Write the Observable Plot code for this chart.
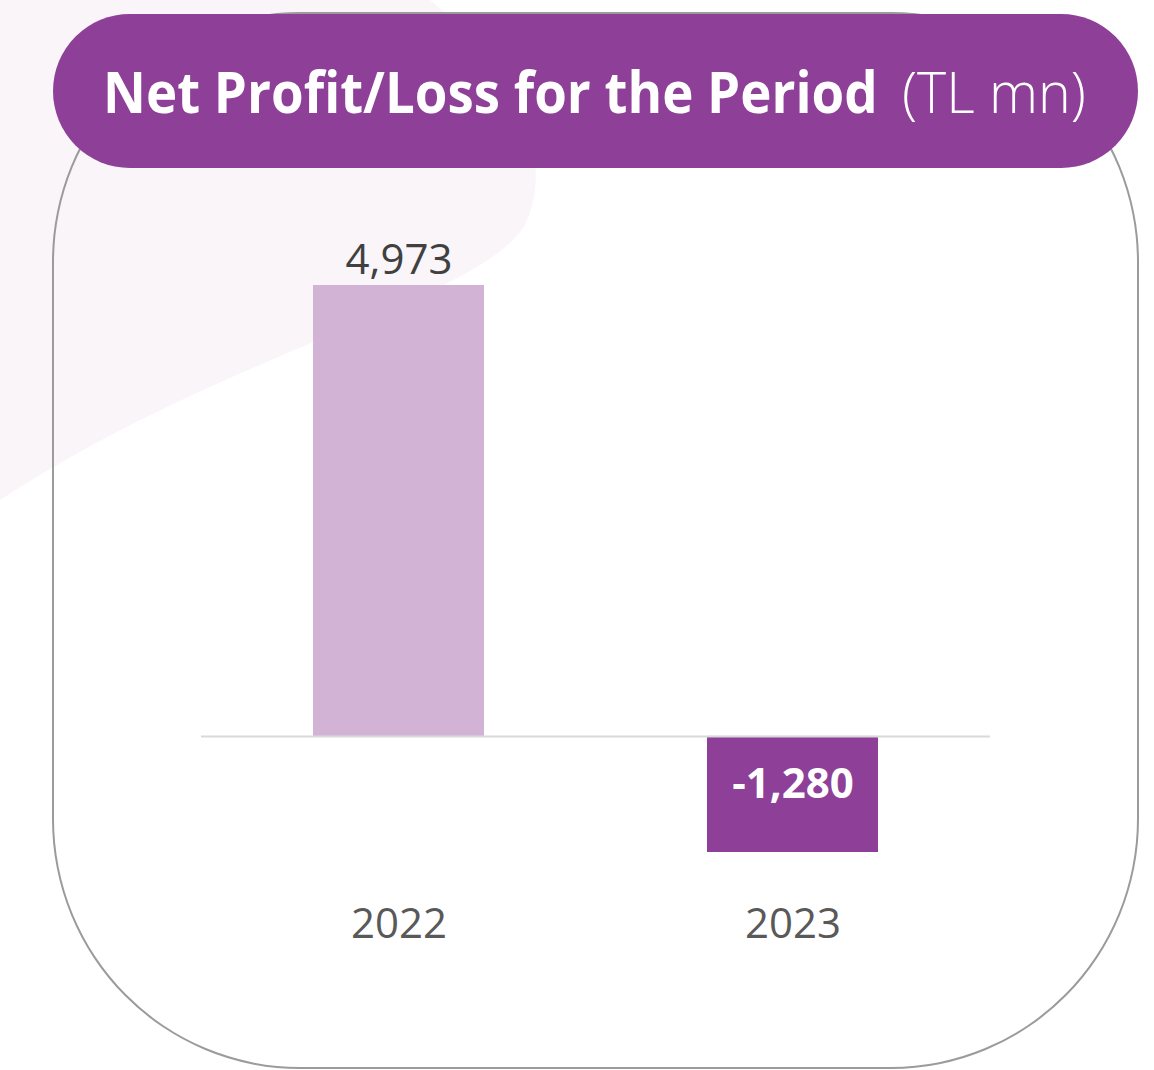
<!DOCTYPE html>
<html>
<head>
<meta charset="utf-8">
<script src="https://cdn.jsdelivr.net/npm/d3@7"></script>
<script src="https://cdn.jsdelivr.net/npm/@observablehq/plot@0.6"></script>
<style>
  html, body { margin: 0; padding: 0; background: #ffffff; }
  #page { position: relative; width: 1154px; height: 1070px; overflow: hidden; background: #ffffff; font-family: "Open Sans", sans-serif; }
  #bg { position: absolute; left: 0; top: 0; }
  #frame { position: absolute; left: 52px; top: 12px; width: 1087px; height: 1057px; box-sizing: border-box;
           border: 2px solid #9b9b9b; border-radius: 248px / 250px; }
  #chart { position: absolute; left: 0; top: 180px; }
  #pill { position: absolute; left: 53px; top: 14px; width: 1085px; height: 154px; border-radius: 77px; background: #8E3F97; }
  #pill svg { display: block; }
</style>
</head>
<body>
<div id="page">
  <svg id="bg" width="1154" height="1070"><path d="M0,0 L430,0 C505,60 560,150 525,225 C480,300 230,350 0,500 Z" fill="#f9f5f9"/></svg>
  <div id="frame"></div>
  <div id="chart"></div>
  <div id="pill">
    <svg width="1085" height="154">
      <text id="t1" data-x="50" data-y="99" data-w="775"
            font-family="Open Sans, sans-serif" font-size="57" font-weight="700" fill="#ffffff">Net Profit/Loss for the Period</text>
      <text id="t2" data-x="849" data-y="99" data-w="184"
            font-family="Open Sans, sans-serif" font-size="57" font-weight="300" fill="#ffffff">(TL mn)</text>
    </svg>
  </div>
</div>
<script>
// Data
const years = ["2022", "2023"];
const values = [4973, -1280];
const barColors = ["#D2B3D6", "#8E3F97"];

const data = years.map((year, i) => ({ year, value: values[i] }));
const fmt = v => v.toLocaleString("en-US");

const chart = Plot.plot({
  width: 1154,
  height: 820,
  marginLeft: 201,
  marginRight: 164,
  marginTop: 105,
  marginBottom: 148,
  style: { fontFamily: "Open Sans, sans-serif", background: "transparent", overflow: "visible" },
  x: { domain: years, paddingInner: 0.565, paddingOuter: 0.2825, label: null },
  y: { domain: [d3.min(values), d3.max(values)], axis: null },
  color: { domain: years, range: barColors },
  marks: [
    Plot.barY(data, { x: "year", y: "value", fill: "year" }),
    Plot.ruleY([0], { stroke: "#D9D9D9", strokeWidth: 2 }),
    Plot.text(data.filter(d => d.value > 0), {
      x: "year", y: "value", text: d => fmt(d.value),
      lineAnchor: "bottom", dy: -12, fontSize: 42, fill: "#404040"
    }),
    Plot.text(data.filter(d => d.value < 0), {
      x: "year", y: "value", text: d => fmt(d.value),
      lineAnchor: "bottom", dy: -55, fontSize: 42, fontWeight: "bold", fill: "#ffffff"
    }),
    Plot.axisX({ tickSize: 0, tickPadding: 56, fontSize: 42, color: "#595959", label: null })
  ]
});
document.getElementById("chart").appendChild(chart);

// Fit the title texts to the reference widths (condensed, Calibri-like look)
for (const id of ["t1", "t2"]) {
  const t = document.getElementById(id);
  const base = 57;
  const target = +t.dataset.w;
  const w = t.getComputedTextLength();
  const size = base * target / w;
  t.setAttribute("font-size", size);
  t.setAttribute("transform", `translate(${t.dataset.x},${t.dataset.y}) scale(1,${base / size})`);
}
</script>
</body>
</html>
